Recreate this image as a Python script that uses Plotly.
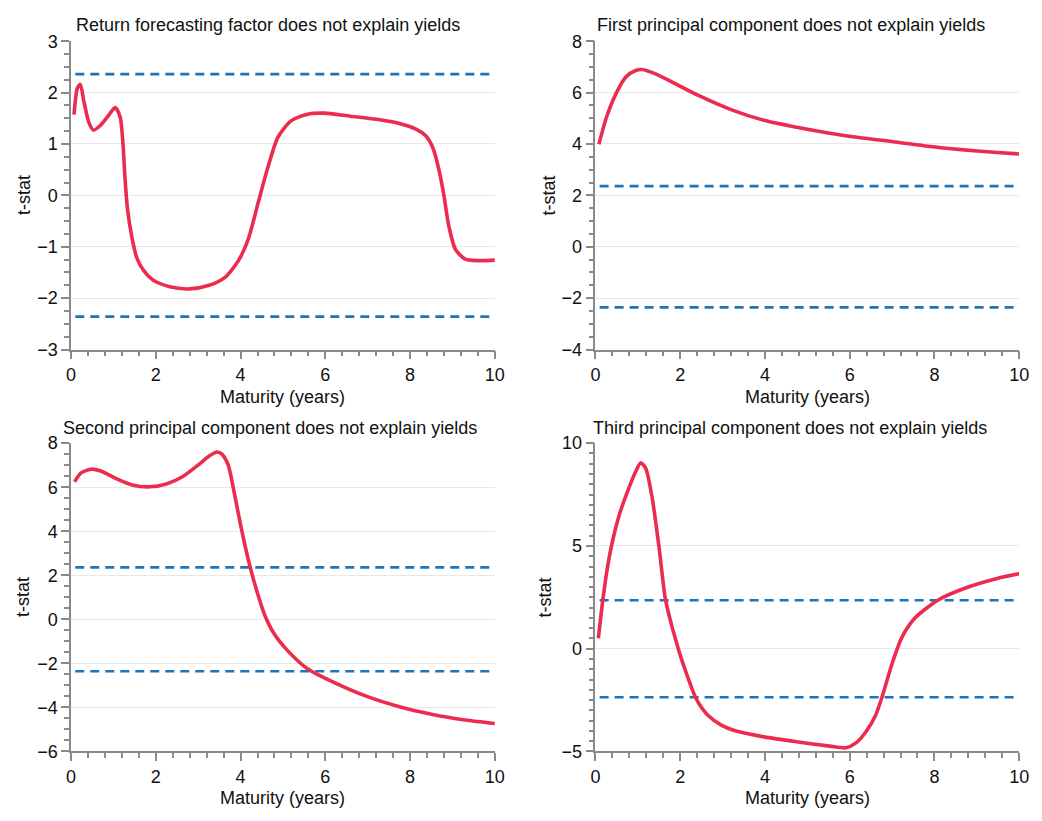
import plotly.graph_objects as go

# ---- data ----
mat1 = [0.07, 0.15, 0.22, 0.30, 0.42, 0.53, 0.69, 0.88, 1.04, 1.16, 1.23, 1.27, 1.33, 1.43, 1.55, 1.71, 1.94,
        2.33, 2.79, 3.26, 3.64, 3.95, 4.19, 4.42, 4.65, 4.88, 5.19, 5.58, 5.97, 6.59, 7.21, 7.75, 8.14, 8.37,
        8.53, 8.68, 8.80, 8.91, 9.07, 9.30, 9.61, 10.0]
tstat1 = [1.57, 2.09, 2.16, 1.84, 1.42, 1.27, 1.36, 1.55, 1.71, 1.52, 0.95, 0.38, -0.25, -0.79, -1.21, -1.46,
          -1.65, -1.78, -1.82, -1.75, -1.59, -1.27, -0.83, -0.13, 0.56, 1.13, 1.45, 1.58, 1.60, 1.54, 1.48,
          1.40, 1.29, 1.16, 0.94, 0.50, -0.01, -0.58, -1.05, -1.24, -1.27, -1.26]

mat2 = [0.083, 0.26, 0.49, 0.72, 0.95, 1.10, 1.42, 1.88, 2.43, 3.20, 3.98, 4.75, 5.53, 6.30, 7.08, 7.85, 8.63,
        9.40, 10.0]
tstat2 = [3.99, 5.03, 5.97, 6.61, 6.86, 6.90, 6.73, 6.35, 5.89, 5.34, 4.92, 4.65, 4.42, 4.23, 4.08, 3.91, 3.78,
          3.68, 3.61]

mat3 = [0.083, 0.23, 0.47, 0.70, 1.09, 1.47, 1.86, 2.25, 2.64, 3.02, 3.26, 3.45, 3.56, 3.71, 3.83, 3.95, 4.06,
        4.22, 4.37, 4.57, 4.80, 5.11, 5.57, 6.19, 6.98, 7.75, 8.53, 9.30, 10.0]
tstat3 = [6.24, 6.64, 6.82, 6.74, 6.37, 6.09, 6.02, 6.15, 6.49, 7.04, 7.42, 7.60, 7.50, 7.00, 5.96, 4.78, 3.75,
          2.42, 1.38, 0.20, -0.68, -1.42, -2.23, -2.85, -3.50, -3.97, -4.32, -4.57, -4.73]

mat4 = [0.07, 0.18, 0.29, 0.41, 0.57, 0.76, 0.95, 1.07, 1.19, 1.34, 1.50, 1.65, 1.81, 1.88, 2.00, 2.12, 2.35,
        2.50, 2.66, 2.97, 3.28, 3.98, 4.75, 5.53, 5.91, 6.15, 6.38, 6.61, 6.77, 7.00, 7.23, 7.54, 8.08, 8.78,
        9.48, 10.0]
tstat4 = [0.51, 2.44, 4.02, 5.29, 6.55, 7.66, 8.61, 9.05, 8.77, 7.34, 4.97, 2.44, 1.05, 0.54, -0.30, -1.04,
          -2.31, -2.85, -3.25, -3.72, -3.98, -4.29, -4.53, -4.74, -4.82, -4.58, -4.05, -3.25, -2.31, -0.73,
          0.54, 1.49, 2.36, 2.99, 3.42, 3.65]

crit_x = [0.1, 10.0]
crit_hi = 2.36
crit_lo = -2.36

titles = ["Return forecasting factor does not explain yields",
          "First principal component does not explain yields",
          "Second principal component does not explain yields",
          "Third principal component does not explain yields"]
yranges = [[-3, 3], [-4, 8], [-6, 8], [-5, 10]]
ydticks = [1, 2, 2, 5]
yminor = [0.25, 0.5, 0.5, 0.5]

series = [(mat1, tstat1), (mat2, tstat2), (mat3, tstat3), (mat4, tstat4)]

# ---- layout geometry ----
W, H = 1042, 821
FONT = "Liberation Sans, Arial, Helvetica, sans-serif"
RED = "#ec2c4e"
BLUE = "#1b75bb"
AX = "#8a8a8a"

xdoms = [[67 / W, 497 / W], [599 / W, 1029 / W], [67 / W, 497 / W], [599 / W, 1029 / W]]
ydoms = [[(H - 348) / H, (H - 32) / H], [(H - 348) / H, (H - 32) / H],
         [(H - 760) / H, (H - 444) / H], [(H - 760) / H, (H - 444) / H]]
title_pos = [(267, 15), (797, 15), (269, 428), (796, 428)]
ytitle_x = [20, 552, 19, 548]
xtitle_y = [397, 397, 808, 808]

fig = go.Figure()
annotations = []
for i in range(4):
    xa = "x" if i == 0 else f"x{i+1}"
    ya = "y" if i == 0 else f"y{i+1}"
    mx, ty = series[i]
    for yv in (crit_hi, crit_lo):
        fig.add_trace(go.Scatter(x=crit_x, y=[yv, yv], mode="lines", xaxis=xa, yaxis=ya,
                                 line=dict(color=BLUE, width=2.6, dash="9px,6px"),
                                 showlegend=False, hoverinfo="skip"))
    fig.add_trace(go.Scatter(x=mx, y=ty, mode="lines", xaxis=xa, yaxis=ya,
                             line=dict(color=RED, width=3.6, shape="spline", smoothing=0.7),
                             showlegend=False))

    axk = "xaxis" if i == 0 else f"xaxis{i+1}"
    ayk = "yaxis" if i == 0 else f"yaxis{i+1}"
    fig.layout[axk] = dict(domain=xdoms[i], range=[0, 10], anchor=ya, tick0=0, dtick=2,
                           ticks="outside", ticklen=8, tickwidth=1.5, tickcolor=AX,
                           showline=True, linecolor=AX, linewidth=1.5, showgrid=False,
                           zeroline=False, tickfont=dict(family=FONT, size=18, color="#111"),
                           minor=dict(dtick=0.4, tick0=0, ticks="outside", ticklen=5,
                                      tickwidth=1.5, tickcolor=AX, showgrid=False))
    fig.layout[ayk] = dict(domain=ydoms[i], range=yranges[i], anchor=xa, tick0=0, dtick=ydticks[i],
                           ticks="outside", ticklen=8, tickwidth=1.5, tickcolor=AX,
                           showline=True, linecolor=AX, linewidth=1.5, showgrid=True,
                           gridcolor="#e8e8e8", gridwidth=1.2, zeroline=False,
                           tickfont=dict(family=FONT, size=18, color="#111"),
                           minor=dict(dtick=yminor[i], tick0=0, ticks="outside", ticklen=5,
                                      tickwidth=1.5, tickcolor=AX, showgrid=False))

    tx, tyy = title_pos[i]
    annotations.append(dict(text=titles[i], x=tx / W, y=(H - tyy) / H, xref="paper", yref="paper",
                            showarrow=False, xanchor="center", yanchor="middle",
                            font=dict(family=FONT, size=18, color="#111")))
    cy = (ydoms[i][0] + ydoms[i][1]) / 2
    annotations.append(dict(text="t-stat", x=ytitle_x[i] / W, y=cy, xref="paper", yref="paper",
                            showarrow=False, textangle=-90, xanchor="center", yanchor="middle",
                            font=dict(family=FONT, size=18, color="#111")))
    cx = (xdoms[i][0] + xdoms[i][1]) / 2
    annotations.append(dict(text="Maturity (years)", x=cx, y=(H - xtitle_y[i]) / H, xref="paper",
                            yref="paper", showarrow=False, xanchor="center", yanchor="middle",
                            font=dict(family=FONT, size=18, color="#111")))

fig.update_layout(width=W, height=H, margin=dict(l=0, r=0, t=0, b=0),
                  paper_bgcolor="white", plot_bgcolor="white", annotations=annotations,
                  font=dict(family=FONT, size=18, color="#111"))

fig.write_html("out.html")
